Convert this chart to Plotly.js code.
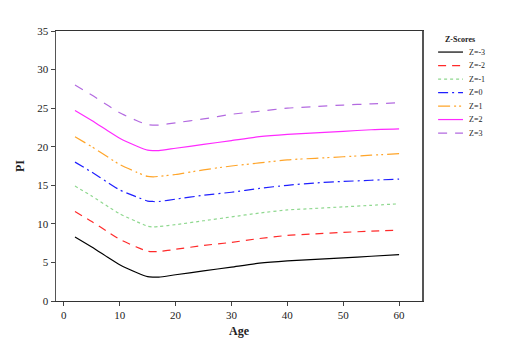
<!DOCTYPE html>
<html>
<head>
<meta charset="utf-8">
<script src="https://cdn.plot.ly/plotly-3.0.1.min.js"></script>
<style>body{margin:0;padding:0;background:#fff}#chart{width:526px;height:351px}</style>
</head>
<body>
<div id="chart"></div>
<script>
const ages = [2,5,8,10,13,15,16,17,20,25,30,35,40,45,50,55,60];
const zm3 = [8.3,7.0,5.6,4.7,3.7,3.15,3.1,3.1,3.4,3.9,4.4,4.9,5.2,5.4,5.6,5.8,6.0];
const zm2 = [11.6,10.3,8.9,8.0,7.0,6.45,6.4,6.4,6.7,7.2,7.6,8.1,8.5,8.7,8.9,9.05,9.2];
const zm1 = [14.9,13.6,12.2,11.3,10.3,9.7,9.6,9.65,9.9,10.4,10.9,11.4,11.8,12.0,12.2,12.4,12.6];
const z0  = [18.0,16.7,15.3,14.4,13.5,12.95,12.9,12.9,13.2,13.7,14.1,14.6,15.0,15.3,15.5,15.65,15.8];
const zp1 = [21.3,20.0,18.6,17.7,16.7,16.15,16.1,16.15,16.4,17.0,17.5,17.9,18.3,18.5,18.7,18.9,19.1];
const zp2 = [24.7,23.4,22.0,21.1,20.1,19.55,19.5,19.5,19.8,20.3,20.8,21.3,21.6,21.8,22.0,22.2,22.3];
const zp3 = [28.0,26.7,25.3,24.4,23.4,22.85,22.8,22.8,23.1,23.6,24.2,24.6,25.0,25.2,25.4,25.55,25.7];
const names = ['Z=-3','Z=-2','Z=-1','Z=0','Z=1','Z=2','Z=3'];
const legendTitle = 'Z-Scores';
const series = [zm3,zm2,zm1,z0,zp1,zp2,zp3];
const colors = ['#000000','#ff2a2a','#8fd88f','#1f1fff','#ffa52a','#ff2aff','#b36ae0'];
const dashes = ['solid','8px,6px','3px,3px','10px,4px,2px,4px','12px,4px,2px,3px,2px,4px','solid','9px,8px'];

const traces = series.map((s,i)=>({
  x: ages, y: s, name: names[i], type:'scatter', mode:'lines', showlegend:false,
  line:{color:colors[i], width:1.2, dash:dashes[i], shape:'spline', smoothing:0.6}
}));

// compact legend built from the names/colors/dashes arrays (paper coordinates)
const legX0 = 1.044, legX1 = 1.112, legTextX = 1.123, legY0 = 0.922, legStep = 0.05;
const shapes = names.map((n,i)=>({
  type:'line', xref:'paper', yref:'paper',
  x0:legX0, x1:legX1, y0:legY0 - i*legStep, y1:legY0 - i*legStep,
  line:{color:colors[i], width:1.2, dash:dashes[i]}
}));
const annotations = names.map((n,i)=>({
  xref:'paper', yref:'paper', x:legTextX, y:legY0 - i*legStep, xanchor:'left', yanchor:'middle',
  text:n, showarrow:false, font:{size:8, color:'#222'}
}));
annotations.push({xref:'paper', yref:'paper', x:1.105, y:0.967, xanchor:'center', yanchor:'middle',
  text:'<b>'+legendTitle+'</b>', showarrow:false, font:{size:8, color:'#222'}});

const layout = {
  width:526, height:351,
  margin:{l:56, r:104, t:31, b:50},
  paper_bgcolor:'#fff', plot_bgcolor:'#fff',
  font:{family:'"Liberation Serif", "Times New Roman", serif', color:'#222', size:11},
  showlegend:false,
  shapes:shapes, annotations:annotations,
  xaxis:{range:[-1.4,64.1], tickvals:[0,10,20,30,40,50,60], ticks:'outside', ticklen:4,
    showgrid:false, zeroline:false, showline:true, mirror:true, linecolor:'#333', linewidth:1.2,
    title:{text:'<b>Age</b>', font:{size:12}, standoff:6}},
  yaxis:{range:[0,35], tickvals:[0,5,10,15,20,25,30,35], ticks:'outside', ticklen:4,
    showgrid:false, zeroline:false, showline:true, mirror:true, linecolor:'#555', linewidth:1.5,
    title:{text:'<b>PI</b>', font:{size:12}, standoff:10}}
};
Plotly.newPlot('chart', traces, layout, {displayModeBar:false, staticPlot:true});
</script>
</body>
</html>
